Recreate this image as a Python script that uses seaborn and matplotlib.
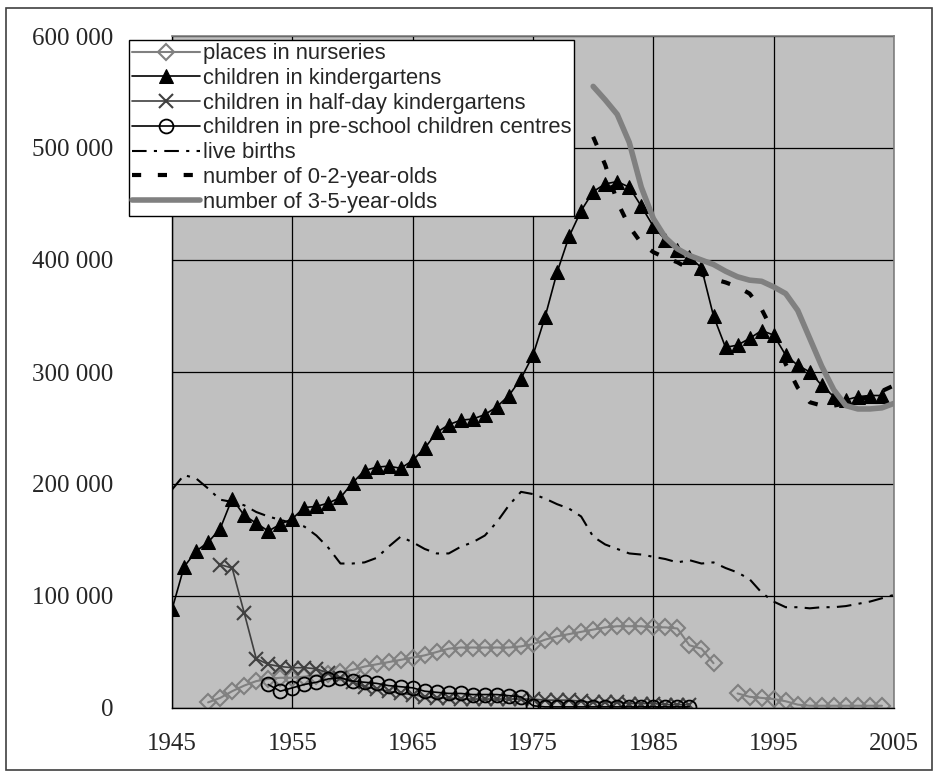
import numpy as np
import pandas as pd
import matplotlib
matplotlib.use("Agg")
import matplotlib.pyplot as plt
import seaborn as sns
from matplotlib.patches import Rectangle
from matplotlib.ticker import FuncFormatter

# values in thousands
years_kg = list(range(1945, 2005))
kindergartens = [88, 126, 140, 148, 160, 187, 172, 165, 158, 164,
                 169, 179, 180, 183, 188, 201, 212, 215, 216, 214,
                 221, 232, 246, 253, 257, 258, 262, 269, 279, 294,
                 315, 349, 389, 421, 444, 461, 468, 470, 465, 448,
                 430, 418, 409, 403, 393, 350, 322, 324, 330, 337,
                 333, 315, 306, 300, 288, 278, 275, 278, 279, 279]

years_nur_a = list(range(1948, 1991))
nurseries_a = [5, 9, 15, 20, 24, 26, 27, 27, 28, 29,
               30, 32, 34, 37, 39, 41, 43, 45, 47, 50,
               53, 54, 54, 54, 54, 54, 55, 57, 61, 64,
               66, 68, 70, 72, 73, 73, 73, 72, 72, 71,
               56, 53, 40]
years_nur_b = list(range(1992, 2005))
nurseries_b = [13, 10, 9, 8, 6, 3, 2, 2, 2, 2, 2, 2, 2]

years_half = list(range(1949, 1989))
half_day = [128, 125, 85, 44, 39, 37, 36, 36, 35, 31,
            27, 23, 19, 17, 15, 13, 12, 10, 9, 9,
            8, 8, 8, 8, 8, 8, 8, 7, 7, 7,
            6, 5, 5, 5, 4, 4, 4, 3, 3, 3]

years_pre = list(range(1953, 1989))
pre_school = [21, 15, 18, 21, 23, 26, 27, 24, 23, 22,
              20, 19, 18, 15, 14, 13, 13, 12, 12, 12,
              11, 10, 2, 1, 1, 1, 1, 1, 1, 1,
              1, 1, 1, 1, 1, 1]

years_births = list(range(1945, 2006))
live_births = [195, 208, 205, 196, 186, 184, 181, 175, 171, 168,
               165, 162, 154, 143, 129, 129, 130, 134, 144, 153,
               148, 142, 138, 138, 144, 148, 154, 166, 181, 193,
               191, 187, 182, 178, 171, 153, 146, 142, 138, 137,
               135, 133, 130, 132, 129, 130, 125, 121, 115, 103,
               95, 90, 90, 89, 90, 90, 91, 93, 95, 98,
               101]

years_pop = list(range(1980, 2006))
age_0_2 = [510, 485, 452, 430, 415, 407, 402, 398, 392, 387,
           383, 380, 376, 370, 356, 335, 307, 286, 273, 270,
           270, 272, 275, 278, 283, 288]
age_3_5 = [555, 543, 530, 505, 465, 437, 420, 410, 404, 400,
           396, 390, 385, 382, 381, 376, 370, 355, 330, 305,
           284, 270, 267, 267, 268, 272]

x_ticks = [1945, 1955, 1965, 1975, 1985, 1995, 2005]
y_ticks = [0, 100000, 200000, 300000, 400000, 500000, 600000]


def k(vals):
    return np.array(vals) * 1000

sns.set_style("white")
plt.rcParams["font.family"] = ["Liberation Serif", "DejaVu Serif"]

fig = plt.figure(figsize=(9.39, 7.76), dpi=100)
ax = fig.add_axes([172 / 939, 68 / 776, 722 / 939, 672 / 776])
ax.set_facecolor("#c0c0c0")

sns.lineplot(x=years_nur_a, y=k(nurseries_a), ax=ax, color="#808080", lw=1.5,
             marker="D", markersize=8, markerfacecolor="none",
             markeredgecolor="#808080", markeredgewidth=1.5,
             label="places in nurseries")
sns.lineplot(x=years_nur_b, y=k(nurseries_b), ax=ax, color="#808080", lw=1.5,
             marker="D", markersize=8, markerfacecolor="none",
             markeredgecolor="#808080", markeredgewidth=1.5,
             label="_nolegend_")
sns.lineplot(x=years_kg, y=k(kindergartens), ax=ax, color="black", lw=1.2,
             marker="^", markersize=10, markerfacecolor="black",
             markeredgecolor="black", label="children in kindergartens")
sns.lineplot(x=years_half, y=k(half_day), ax=ax, color="#404040", lw=1.2,
             marker="x", markersize=10, markeredgewidth=1.5,
             markeredgecolor="#404040", label="children in half-day kindergartens")
sns.lineplot(x=years_pre, y=k(pre_school), ax=ax, color="black", lw=1.2,
             marker="o", markersize=10, markerfacecolor="none",
             markeredgecolor="black", markeredgewidth=1.3,
             label="children in pre-school children centres")
sns.lineplot(x=years_births, y=k(live_births), ax=ax, color="black", lw=1.5,
             label="live births").lines[-1].set_dashes([7, 3.5, 1.5, 3.5])
sns.lineplot(x=years_pop, y=k(age_0_2), ax=ax, color="black", lw=3,
             label="number of 0-2-year-olds").lines[-1].set_dashes([2.2, 4])
sns.lineplot(x=years_pop, y=k(age_3_5), ax=ax, color="#808080", lw=4,
             label="number of 3-5-year-olds")

ax.set_xlim(1945, 2005)
ax.set_ylim(0, 600000)
ax.set_xticks(x_ticks)
ax.set_yticks(y_ticks)
ax.yaxis.set_major_formatter(FuncFormatter(lambda v, p: f"{int(v):,}".replace(",", " ")))
ax.grid(True, color="black", lw=0.9)
ax.set_axisbelow(True)
ax.tick_params(axis="both", direction="out", length=7, width=1, color="black",
               labelsize=18)
ax.tick_params(axis="y", pad=35)
ax.tick_params(axis="x", pad=11)
ax.set_xlabel("")
ax.set_ylabel("")
for side in ["left", "bottom"]:
    ax.spines[side].set_color("black")
    ax.spines[side].set_linewidth(1)
for side in ["top", "right"]:
    ax.spines[side].set_color("#808080")
    ax.spines[side].set_linewidth(1.2)

handles, labels = ax.get_legend_handles_labels()
leg = ax.legend(handles, labels, loc="upper left",
                bbox_to_anchor=(129 / 939, 736 / 776), bbox_transform=fig.transFigure,
                prop={"family": "Liberation Sans", "size": 15.8}, numpoints=1,
                handlelength=3.1, handletextpad=0.1, labelspacing=0.17,
                borderpad=0.15, borderaxespad=0, frameon=True, fancybox=False,
                framealpha=1, edgecolor="black", facecolor="white")
leg.get_frame().set_linewidth(1)

fig.patches.append(Rectangle((6 / 939, 6 / 776), 926 / 939, 762 / 776,
                             transform=fig.transFigure, fill=False,
                             edgecolor="#404040", lw=1.2))

fig.savefig("out.png", dpi=100)
